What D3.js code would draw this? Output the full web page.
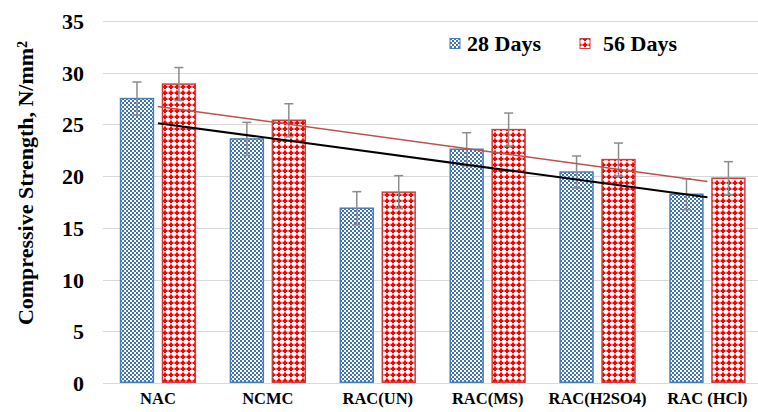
<!DOCTYPE html>
<html>
<head>
<meta charset="utf-8">
<script src="https://cdn.jsdelivr.net/npm/d3@7"></script>
<style>
  html, body { margin: 0; padding: 0; background: #fff; }
  svg { display: block; }
  text { font-family: "Liberation Serif", "Times New Roman", serif; font-weight: bold; fill: #000; }
</style>
</head>
<body>
<svg id="chart" width="758" height="412"></svg>
<script>
// Mix designations along the x axis
const categories = ["NAC", "NCMC", "RAC(UN)", "RAC(MS)", "RAC(H2SO4)", "RAC (HCl)"];
const seriesNames = ["28 Days", "56 Days"];
// Mean compressive strength, N/mm²
const days28 = [27.5, 23.6, 16.9, 22.6, 20.4, 18.25];
const days56 = [28.9, 25.4, 18.45, 24.5, 21.6, 19.8];
// Error-bar half widths
const err28 = [1.6, 1.6, 1.6, 1.6, 1.55, 1.5];
const err56 = [1.6, 1.6, 1.6, 1.6, 1.6, 1.6];
const yTicks = [0, 5, 10, 15, 20, 25, 30, 35];

const svg = d3.select("#chart");
const plot = { left: 103, right: 762.4, top: 21, bottom: 383 };

const x0 = d3.scaleBand().domain(categories).range([plot.left, plot.right]).padding(0);
const x1 = d3.scaleBand().domain(seriesNames).range([0, x0.bandwidth()])
  .paddingInner(0.18).paddingOuter(0.4);
const y = d3.scaleLinear().domain([0, 35]).range([plot.bottom, plot.top]);

// Fill patterns
const defs = svg.append("defs");
const pBlue = defs.append("pattern").attr("id", "pat28")
  .attr("patternUnits", "userSpaceOnUse").attr("width", 4).attr("height", 4);
pBlue.append("rect").attr("width", 4).attr("height", 4).attr("fill", "#fff");
pBlue.append("rect").attr("x", 0).attr("y", 0).attr("width", 2).attr("height", 2).attr("fill", "#3f74b8");
pBlue.append("rect").attr("x", 2).attr("y", 2).attr("width", 2).attr("height", 2).attr("fill", "#3f74b8");

const pRed = defs.append("pattern").attr("id", "pat56")
  .attr("patternUnits", "userSpaceOnUse").attr("width", 6).attr("height", 6);
pRed.append("rect").attr("width", 6).attr("height", 6).attr("fill", "#fff");
pRed.append("rect").attr("x", 2).attr("y", 0.5).attr("width", 2).attr("height", 4.5).attr("fill", "#ff0000");
pRed.append("rect").attr("x", 0.5).attr("y", 1.75).attr("width", 5).attr("height", 2.25).attr("fill", "#ff0000");

const styles = {
  "28 Days": { fill: "url(#pat28)", stroke: "#4a7ebb", trend: "#000000", trendW: 2 },
  "56 Days": { fill: "url(#pat56)", stroke: "#c8403c", trend: "#c0504d", trendW: 1.5 }
};
const seriesData = [
  { name: "28 Days", values: days28, errs: err28 },
  { name: "56 Days", values: days56, errs: err56 }
];

// Gridlines
svg.append("g").selectAll("line").data(yTicks).join("line")
  .attr("x1", plot.left).attr("x2", 758)
  .attr("y1", d => Math.round(y(d)) + 0.5).attr("y2", d => Math.round(y(d)) + 0.5)
  .attr("stroke", "#d9d9d9").attr("stroke-width", 1.2);

// Y axis labels
const yAxis = d3.axisLeft(y).tickValues(yTicks).tickSize(0).tickPadding(0);
const gy = svg.append("g").attr("transform", "translate(84,0)").call(yAxis);
gy.select(".domain").remove();
gy.selectAll("text").style("font-size", "22px").style("font-family", "Liberation Serif").attr("dy", "0.34em");

// X axis labels
const xAxis = d3.axisBottom(x0).tickSize(0).tickPadding(0);
const gx = svg.append("g").attr("transform", "translate(0,392)").call(xAxis);
gx.select(".domain").remove();
gx.selectAll("text").style("font-size", "16.5px").style("font-family", "Liberation Serif").attr("dy", "0.71em");

// Bars
seriesData.forEach(s => {
  const st = styles[s.name];
  svg.append("g").selectAll("rect").data(categories).join("rect")
    .attr("x", c => x0(c) + x1(s.name) + 0.75)
    .attr("width", x1.bandwidth() - 1.5)
    .attr("y", (c, i) => y(s.values[i]))
    .attr("height", (c, i) => y(0) - y(s.values[i]) - 0.75)
    .attr("fill", st.fill)
    .attr("stroke", st.stroke).attr("stroke-width", 1.5);
});

// Error bars
seriesData.forEach(s => {
  const g = svg.append("g").attr("stroke", "#8c8c8c").attr("stroke-width", 1.5);
  categories.forEach((c, i) => {
    const cx = x0(c) + x1(s.name) + x1.bandwidth() / 2;
    const lo = y(s.values[i] - s.errs[i]), hi = y(s.values[i] + s.errs[i]);
    g.append("line").attr("x1", cx).attr("x2", cx).attr("y1", lo).attr("y2", hi);
    g.append("line").attr("x1", cx - 4.5).attr("x2", cx + 4.5).attr("y1", hi).attr("y2", hi);
    g.append("line").attr("x1", cx - 4.5).attr("x2", cx + 4.5).attr("y1", lo).attr("y2", lo);
  });
});

// Linear trendlines (least squares over category index)
seriesData.forEach(s => {
  const st = styles[s.name];
  const n = s.values.length;
  const xs = d3.range(1, n + 1);
  const mx = d3.mean(xs), my = d3.mean(s.values);
  const slope = d3.sum(xs, (xv, i) => (xv - mx) * (s.values[i] - my)) / d3.sum(xs, xv => (xv - mx) ** 2);
  const at = xv => my + slope * (xv - mx);
  const cx = k => x0(categories[k]) + x0.bandwidth() / 2;
  svg.append("line")
    .attr("x1", cx(0)).attr("y1", y(at(1)))
    .attr("x2", cx(n - 1)).attr("y2", y(at(n)))
    .attr("stroke", st.trend).attr("stroke-width", st.trendW);
});

// Legend
const legendPos = [{ sx: 450, tx: 467 }, { sx: 580, tx: 603 }];
seriesData.forEach((s, i) => {
  const st = styles[s.name];
  svg.append("rect").attr("x", legendPos[i].sx).attr("y", 38.5).attr("width", 10).attr("height", 10)
    .attr("fill", st.fill).attr("stroke", st.stroke).attr("stroke-width", 1);
  svg.append("text").attr("x", legendPos[i].tx).attr("y", 51)
    .style("font-size", "22px").text(s.name);
});

// Y axis title
const yt = svg.append("text")
  .attr("transform", "translate(33,183) rotate(-90)")
  .attr("text-anchor", "middle")
  .style("font-size", "22px");
yt.append("tspan").text("Compressive Strength, N/mm");
yt.append("tspan").attr("dy", "-0.45em").style("font-size", "14px").text("2");
</script>
</body>
</html>
